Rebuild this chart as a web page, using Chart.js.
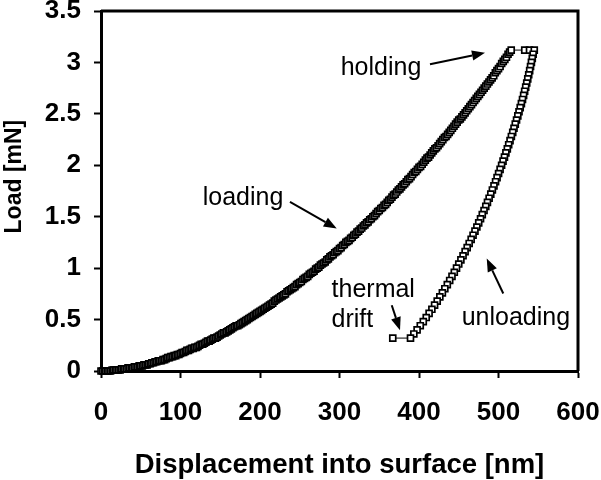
<!DOCTYPE html>
<html>
<head>
<meta charset="utf-8">
<title>Load - displacement</title>
<script src="https://cdn.jsdelivr.net/npm/chart.js@4.4.0/dist/chart.umd.min.js"></script>
<style>
    html, body { margin: 0; padding: 0; background: #fff; }
    #wrap { position: relative; width: 601px; height: 480px; }
</style>
</head>
<body>
<div id="wrap"><canvas id="loadChart"></canvas></div>
<script>
// Loading branch (displacement nm / load mN)
const loadingDisp = [
    0, 2, 4, 6, 8, 10, 12, 14, 16, 18,
    20, 22, 24, 26, 28, 30, 32, 34, 36, 38,
    40, 42, 44, 46, 48, 50, 52, 54, 56, 58,
    60, 62, 64, 66, 68, 70, 72, 74, 76, 78,
    80, 82, 84, 86, 88, 90, 92, 94, 96, 98,
    100, 102, 104, 106, 108, 110, 112, 114, 116, 118,
    120, 122, 124, 126, 128, 130, 132, 134, 136, 138,
    140, 142, 144, 146, 148, 150, 152, 154, 156, 158,
    160, 162, 164, 166, 168, 170, 172, 174, 176, 178,
    180, 182, 184, 186, 188, 190, 192, 194, 196, 198,
    200, 202, 204, 206, 208, 210, 212, 214, 216, 218,
    220, 222, 224, 226, 228, 230, 232, 234, 236, 238,
    240, 242, 244, 246, 248, 250, 252, 254, 256, 258,
    260, 262, 264, 266, 268, 270, 272, 274, 276, 278,
    280, 282, 284, 286, 288, 290, 292, 294, 296, 298,
    300, 302, 304, 306, 308, 310, 312, 314, 316, 318,
    320, 322, 324, 326, 328, 330, 332, 334, 336, 338,
    340, 342, 344, 346, 348, 350, 352, 354, 356, 358,
    360, 362, 364, 366, 368, 370, 372, 374, 376, 378,
    380, 382, 384, 386, 388, 390, 392, 394, 396, 398,
    400, 402, 404, 406, 408, 410, 412, 414, 416, 418,
    420, 422, 424, 426, 428, 430, 432, 434, 436, 438,
    440, 442, 444, 446, 448, 450, 452, 454, 456, 458,
    460, 462, 464, 466, 468, 470, 472, 474, 476, 478,
    480, 482, 484, 486, 488, 490, 492, 494, 496, 498,
    500, 502, 504, 506, 508, 510, 512, 514, 516
];
const loadingLoad = [
    0.00, 0.00, 0.00, 0.00, 0.00, 0.00, 0.00, 0.01, 0.01, 0.01,
    0.01, 0.01, 0.01, 0.02, 0.02, 0.02, 0.02, 0.03, 0.03, 0.03,
    0.03, 0.04, 0.04, 0.04, 0.05, 0.05, 0.05, 0.06, 0.06, 0.06,
    0.07, 0.07, 0.08, 0.08, 0.09, 0.09, 0.10, 0.10, 0.10, 0.11,
    0.11, 0.12, 0.13, 0.13, 0.14, 0.14, 0.15, 0.15, 0.16, 0.16,
    0.17, 0.18, 0.18, 0.19, 0.20, 0.20, 0.21, 0.22, 0.22, 0.23,
    0.23, 0.24, 0.25, 0.26, 0.26, 0.27, 0.28, 0.29, 0.29, 0.30,
    0.31, 0.32, 0.32, 0.33, 0.34, 0.35, 0.36, 0.37, 0.37, 0.38,
    0.39, 0.40, 0.41, 0.42, 0.43, 0.44, 0.44, 0.45, 0.46, 0.47,
    0.48, 0.49, 0.50, 0.51, 0.52, 0.53, 0.54, 0.55, 0.56, 0.57,
    0.58, 0.59, 0.60, 0.61, 0.62, 0.63, 0.64, 0.65, 0.66, 0.68,
    0.69, 0.70, 0.71, 0.72, 0.73, 0.74, 0.75, 0.77, 0.78, 0.79,
    0.80, 0.81, 0.82, 0.84, 0.85, 0.86, 0.87, 0.89, 0.90, 0.91,
    0.92, 0.94, 0.95, 0.96, 0.97, 0.99, 1.00, 1.01, 1.03, 1.04,
    1.05, 1.06, 1.08, 1.09, 1.11, 1.12, 1.13, 1.15, 1.16, 1.17,
    1.19, 1.20, 1.22, 1.23, 1.25, 1.26, 1.27, 1.29, 1.30, 1.32,
    1.33, 1.35, 1.36, 1.38, 1.39, 1.41, 1.42, 1.44, 1.45, 1.47,
    1.48, 1.50, 1.51, 1.53, 1.55, 1.56, 1.58, 1.59, 1.61, 1.62,
    1.64, 1.66, 1.67, 1.69, 1.71, 1.72, 1.74, 1.76, 1.77, 1.79,
    1.81, 1.82, 1.84, 1.86, 1.87, 1.89, 1.91, 1.93, 1.94, 1.96,
    1.98, 1.99, 2.01, 2.03, 2.05, 2.07, 2.08, 2.10, 2.12, 2.14,
    2.16, 2.17, 2.19, 2.21, 2.23, 2.25, 2.27, 2.28, 2.30, 2.32,
    2.34, 2.36, 2.38, 2.40, 2.42, 2.44, 2.45, 2.47, 2.49, 2.51,
    2.53, 2.55, 2.57, 2.59, 2.61, 2.63, 2.65, 2.67, 2.69, 2.71,
    2.73, 2.75, 2.77, 2.79, 2.81, 2.83, 2.85, 2.87, 2.90, 2.92,
    2.94, 2.96, 2.99, 3.01, 3.03, 3.05, 3.08, 3.10, 3.12
];

// Holding at peak load
const holdingDisp = [533, 539, 545];
const holdingLoad = [3.12, 3.12, 3.12];

// Unloading branch
const unloadingDisp = [
    543.6, 542.5, 541.4, 540.3, 539.2, 538.0, 536.8, 535.5, 534.2, 532.9,
    531.6, 530.2, 528.8, 527.3, 525.8, 524.3, 522.7, 521.1, 519.5, 517.9,
    516.2, 514.5, 512.8, 511.1, 509.3, 507.5, 505.7, 503.9, 502.0, 500.1,
    498.2, 496.3, 494.3, 492.3, 490.3, 488.2, 486.1, 484.0, 481.8, 479.6,
    477.4, 475.1, 472.8, 470.4, 468.0, 465.6, 463.1, 460.6, 458.0, 455.4,
    452.7, 450.0, 447.2, 444.4, 441.5, 438.6, 435.6, 432.5, 429.4, 426.2,
    422.9, 419.6, 416.2, 412.7, 409.1, 405.4, 401.6, 397.6, 393.5, 389.3
];
const unloadingLoad = [
    3.08, 3.04, 3.00, 2.96, 2.92, 2.88, 2.84, 2.80, 2.76, 2.72,
    2.68, 2.64, 2.60, 2.56, 2.52, 2.48, 2.44, 2.40, 2.36, 2.32,
    2.28, 2.24, 2.20, 2.16, 2.12, 2.08, 2.04, 2.00, 1.96, 1.92,
    1.88, 1.84, 1.80, 1.76, 1.72, 1.68, 1.64, 1.60, 1.56, 1.52,
    1.48, 1.44, 1.40, 1.36, 1.32, 1.28, 1.24, 1.20, 1.16, 1.12,
    1.08, 1.04, 1.00, 0.96, 0.92, 0.88, 0.84, 0.80, 0.76, 0.72,
    0.68, 0.64, 0.60, 0.56, 0.52, 0.48, 0.44, 0.40, 0.36, 0.32
];

// Thermal drift hold
const driftDisp = [367];
const driftLoad = [0.32];

// Axis ticks
const xTicks = [0, 100, 200, 300, 400, 500, 600];
const yTicks = [0, 0.5, 1, 1.5, 2, 2.5, 3, 3.5];

const LoadChart = (function() {
    'use strict';

    const FONT = '"Liberation Sans", Arial, sans-serif';
    const BLACK = '#000';

    // Labels and arrows, placed in data units
    const labels = [
        { text: 'loading', x: 128, y: 1.61 },
        { text: 'holding', x: 301.5, y: 2.876 },
        { text: 'thermal', x: 290, y: 0.717 },
        { text: 'drift', x: 290, y: 0.425 },
        { text: 'unloading', x: 453.7, y: 0.445 }
    ];
    const arrows = [
        { from: [237.7, 1.644], to: [296.5, 1.385] },
        { from: [413.8, 2.983], to: [483, 3.093] },
        { from: [365.7, 0.639], to: [376.1, 0.396] },
        { from: [506, 0.753], to: [485.2, 1.093] }
    ];

    function toPoints(xs, ys) {
        return xs.map((x, i) => ({ x: x, y: ys[i] }));
    }

    /**
     * Frame on top/right, labels, arrows and the y title
     */
    const decorations = {
        id: 'decorations',
        afterDraw(chart) {
            const ctx = chart.ctx;
            const area = chart.chartArea;
            const xs = chart.scales.x;
            const ys = chart.scales.y;

            ctx.save();
            ctx.strokeStyle = BLACK;
            ctx.lineWidth = 3;
            ctx.beginPath();
            ctx.moveTo(area.left, area.top);
            ctx.lineTo(area.right, area.top);
            ctx.lineTo(area.right, area.bottom);
            ctx.stroke();

            ctx.fillStyle = BLACK;
            ctx.font = '25px ' + FONT;
            ctx.textAlign = 'left';
            ctx.textBaseline = 'alphabetic';
            labels.forEach(l => {
                ctx.fillText(l.text, xs.getPixelForValue(l.x), ys.getPixelForValue(l.y));
            });

            ctx.lineWidth = 2;
            arrows.forEach(a => {
                const x1 = xs.getPixelForValue(a.from[0]);
                const y1 = ys.getPixelForValue(a.from[1]);
                const x2 = xs.getPixelForValue(a.to[0]);
                const y2 = ys.getPixelForValue(a.to[1]);
                const ang = Math.atan2(y2 - y1, x2 - x1);
                const head = 13;
                const half = 5;
                const bx = x2 - head * Math.cos(ang);
                const by = y2 - head * Math.sin(ang);
                ctx.beginPath();
                ctx.moveTo(x1, y1);
                ctx.lineTo(bx, by);
                ctx.stroke();
                ctx.beginPath();
                ctx.moveTo(x2, y2);
                ctx.lineTo(bx + half * Math.sin(ang), by - half * Math.cos(ang));
                ctx.lineTo(bx - half * Math.sin(ang), by + half * Math.cos(ang));
                ctx.closePath();
                ctx.fill();
            });

            // y axis title
            ctx.font = 'bold 23px ' + FONT;
            ctx.textAlign = 'center';
            ctx.textBaseline = 'middle';
            ctx.translate(15, ys.getPixelForValue(1.89));
            ctx.rotate(-Math.PI / 2);
            ctx.fillText('Load [mN]', 0, 0);
            ctx.restore();
        }
    };

    function init() {
        const ctx = document.getElementById('loadChart');
        if (!ctx) return;

        const points = []
            .concat(toPoints(loadingDisp, loadingLoad))
            .concat(toPoints(holdingDisp, holdingLoad))
            .concat(toPoints(unloadingDisp, unloadingLoad))
            .concat(toPoints(driftDisp, driftLoad));

        new Chart(ctx, {
            type: 'line',
            data: {
                datasets: [{
                    data: points,
                    borderColor: BLACK,
                    borderWidth: 1,
                    tension: 0,
                    fill: false,
                    pointStyle: 'rect',
                    pointRadius: 4.2,
                    pointBackgroundColor: '#fff',
                    pointBorderColor: BLACK,
                    pointBorderWidth: 1.7,
                    clip: false
                }]
            },
            options: {
                responsive: true,
                maintainAspectRatio: false,
                animation: false,
                events: [],
                layout: {
                    padding: { left: 0, right: 23, top: 11, bottom: 0 }
                },
                plugins: {
                    legend: { display: false },
                    tooltip: { enabled: false }
                },
                scales: {
                    x: {
                        type: 'linear',
                        position: 'bottom',
                        min: 0,
                        max: 600,
                        afterBuildTicks: s => { s.ticks = xTicks.map(v => ({ value: v })); },
                        afterFit: s => { s.height = 109; s.paddingLeft = 0; s.paddingRight = 0; },
                        border: { display: true, color: BLACK, width: 3 },
                        grid: {
                            drawOnChartArea: false,
                            drawTicks: true,
                            tickLength: 7,
                            tickWidth: 2,
                            tickColor: BLACK
                        },
                        ticks: {
                            color: BLACK,
                            padding: 19,
                            maxRotation: 0,
                            callback: value => String(value),
                            font: { family: FONT, size: 26, weight: 'bold' }
                        },
                        title: {
                            display: true,
                            text: 'Displacement into surface [nm]',
                            color: BLACK,
                            padding: { top: 0, bottom: -2 },
                            font: { family: FONT, size: 27.5, weight: 'bold' }
                        }
                    },
                    y: {
                        type: 'linear',
                        min: 0,
                        max: 3.5,
                        afterBuildTicks: s => { s.ticks = yTicks.map(v => ({ value: v })); },
                        afterFit: s => { s.width = 101; s.paddingTop = 0; s.paddingBottom = 0; },
                        border: { display: true, color: BLACK, width: 3 },
                        grid: {
                            drawOnChartArea: false,
                            drawTicks: true,
                            tickLength: 7,
                            tickWidth: 2,
                            tickColor: BLACK
                        },
                        ticks: {
                            color: BLACK,
                            padding: 13,
                            callback: value => String(value),
                            font: { family: FONT, size: 26, weight: 'bold' }
                        }
                    }
                }
            },
            plugins: [decorations]
        });
    }

    return { init: init };
})();

document.addEventListener('DOMContentLoaded', LoadChart.init);
</script>
</body>
</html>
